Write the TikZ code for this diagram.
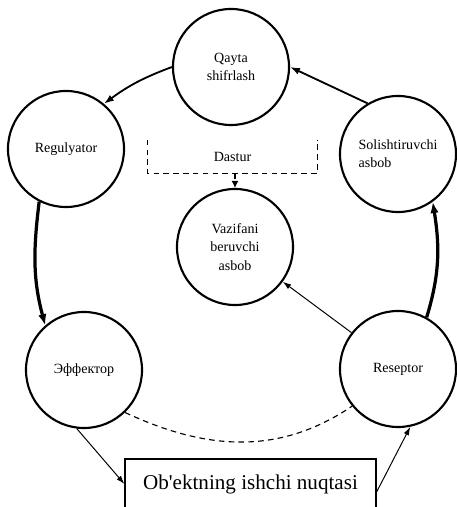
\documentclass[tikz,border=0pt]{standalone}
\usepackage{fontspec}
\setmainfont{Liberation Serif}
\newfontfamily\plainserif{Liberation Serif}
\usepackage{tikz}
\usetikzlibrary{calc}
\usetikzlibrary{arrows.meta,shapes}

\tikzset{
  unit/.style={draw,circle,line width=1.5pt,minimum size=2.9cm,inner sep=0pt,
    align=center,font=\fontsize{10}{13}\selectfont},
  link/.style={line width=1.3pt,-{Latex[length=7pt,width=5pt]}},
  heavy link/.style={line width=2.3pt,-{Latex[length=8pt,width=6pt]}},
  thin link/.style={line width=0.7pt,-{Latex[length=6pt,width=4pt]}},
  dash link/.style={line width=0.8pt,dash pattern=on 4pt off 3pt},
}

\begin{document}
\begin{tikzpicture}[x=0.025cm,y=0.025cm]
  \useasboundingbox (0,0) rectangle (456,507);

  % circles of the loop
  \node[unit] (qayta) at (231,440) {Qayta\\shifrlash};
  \node[unit] (reg) at (66,358) {Regulyator};
  \node[unit,align=left] (sol) at (398,353) {Solishtiruvchi\\asbob};
  \node[unit] (vaz) at (235,260) {Vazifani\\beruvchi\\asbob};
  \node[unit] (eff) at (84,137) {Эффектор};
  \node[unit] (res) at (398,138) {Reseptor};

  % program (open box) and the object
  \node[minimum width=4.225cm,minimum height=0.825cm,font=\fontsize{10}{12}\selectfont] (dastur) at (232.5,350.5) {Dastur};
  \draw[dash link] (dastur.north west) -- (dastur.south west) -- (dastur.south east) -- (dastur.north east);
  \node[draw,line width=0.8pt,minimum width=6.275cm,minimum height=1.25cm,font=\plainserif\fontsize{15}{18}\selectfont] (obj) at (250.5,23) {Ob'ektning ishchi nuqtasi};

  \draw[link] (qayta.180) to[bend right=8] (reg.50);
  \draw[link] (sol.121) -- (qayta.0);
  \draw[heavy link] (reg.243) to[out=-97,in=105] (eff.131);
  \draw[heavy link] (res.61) to[out=73,in=-81] (sol.-54);
  \draw[thin link] (res.142) -- (vaz.-36);
  \draw[dash link,-{Latex[length=5pt,width=5pt]}] (vaz.north |- dastur.south) -- (vaz.north);
  \draw[dash link] (eff.-46) to[out=-25,in=214] (res.219);
  \draw[thin link] (eff.-97) -- (obj.west);
  \draw[thin link] ([yshift=-0.2cm]obj.east) -- (res.-78);

\end{tikzpicture}
\end{document}
